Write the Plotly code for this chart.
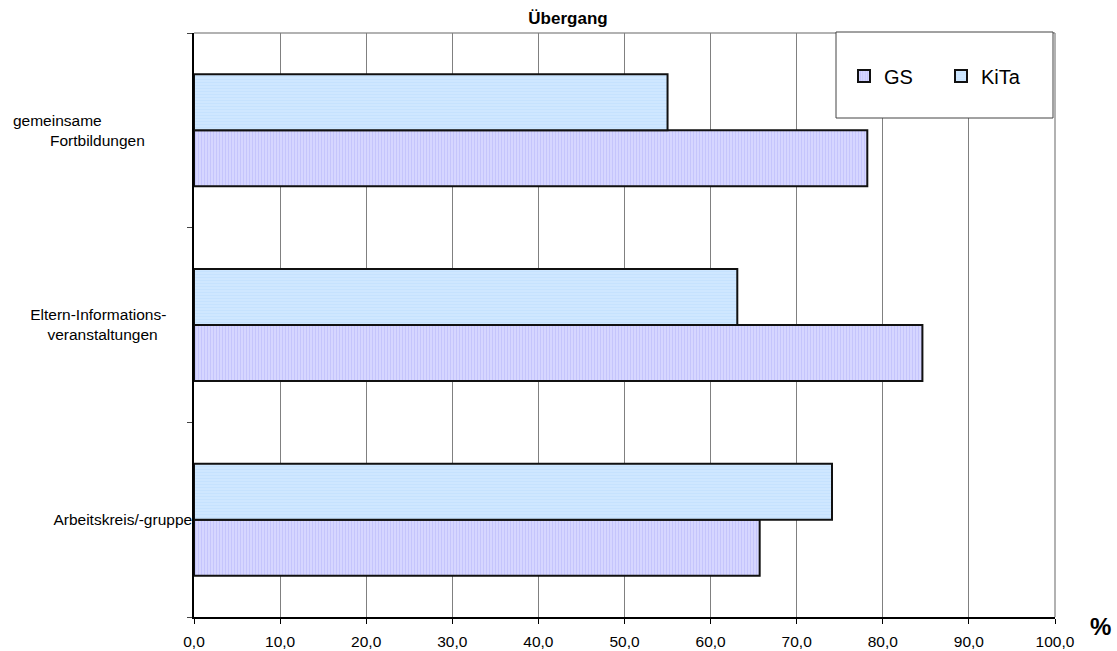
import plotly.graph_objects as go

NB = "\u00a0"
categories = ["Arbeitskreis/-gruppe",
              "Eltern-Informations-" + NB * 6 + "<br>veranstaltungen" + NB * 8,
              "gemeinsame" + NB * 21 + "<br>Fortbildungen" + NB * 11]
series_names = ["GS", "KiTa"]
gs_values = [65.7, 84.6, 78.2]
kita_values = [74.1, 63.1, 55.0]
x_ticks = [0, 10, 20, 30, 40, 50, 60, 70, 80, 90, 100]

fig = go.Figure()
fig.add_trace(go.Bar(
    y=categories, x=gs_values, name=series_names[0], orientation="h",
    marker=dict(color="#CCCCFF",
                line=dict(color="#111111", width=2),
                pattern=dict(shape="|", bgcolor="#D6D6FF", fgcolor="#B4B4FA",
                             size=3, solidity=0.35)),
))
fig.add_trace(go.Bar(
    y=categories, x=kita_values, name=series_names[1], orientation="h",
    marker=dict(color="#CCE6FF",
                line=dict(color="#111111", width=2),
                pattern=dict(shape="-", bgcolor="#CFE7FF", fgcolor="#BDDDFD",
                             size=3, solidity=0.35)),
))

W, H = 1117, 651
L, R, T, B = 194, 1117 - 1055, 33, 651 - 617
pw, ph = W - L - R, H - T - B

def px_x(px):
    return (px - L) / pw

def px_y(py):
    return (H - B - py) / ph

fig.update_layout(
    width=W, height=H,
    margin=dict(l=L, r=R, t=T, b=B, autoexpand=False),
    paper_bgcolor="white", plot_bgcolor="white",
    font=dict(family="Liberation Sans, Arial, sans-serif", size=15.5, color="black"),
    separators=",.",
    barmode="group", bargap=0.425, bargroupgap=0,
    title=dict(text="<b>Übergang</b>", x=568 / W, xanchor="center",
               y=1 - 18 / H, yanchor="middle",
               font=dict(size=17, color="black")),
    showlegend=True,
    legend=dict(orientation="h", x=px_x(844), y=px_y(76), xanchor="left",
                yanchor="middle", bgcolor="rgba(0,0,0,0)", borderwidth=0,
                font=dict(size=20, color="black"), traceorder="normal",
                entrywidth=52, entrywidthmode="pixels", itemwidth=30),
    xaxis=dict(range=[0, 100], tickvals=x_ticks, tickformat=".1f",
               showgrid=True, gridcolor="#808080", gridwidth=1,
               showline=True, linecolor="black", linewidth=1.5,
               ticks="outside", ticklen=5, tickcolor="black",
               ticklabelstandoff=5,
               zeroline=False, fixedrange=True),
    yaxis=dict(type="category", categoryorder="array", categoryarray=categories,
               tickson="boundaries", ticks="outside", ticklen=5,
               tickcolor="#444444", showline=True, linecolor="black",
               linewidth=1.5, showgrid=False, ticklabelstandoff=-3,
               fixedrange=True),
    shapes=[
        dict(type="line", xref="paper", yref="paper", x0=0, x1=1, y0=1, y1=1,
             line=dict(color="#999999", width=1.5), layer="below"),
        dict(type="line", xref="paper", yref="paper", x0=1, x1=1, y0=0, y1=1,
             line=dict(color="#999999", width=1.5), layer="below"),
        dict(type="rect", xref="paper", yref="paper",
             x0=px_x(836), x1=px_x(1053), y0=px_y(118), y1=px_y(32),
             fillcolor="white", line=dict(color="#444444", width=1),
             layer="above"),
    ],
    annotations=[
        dict(text="<b>%</b>", xref="paper", yref="paper",
             x=px_x(1100), y=px_y(626), xanchor="center", yanchor="middle",
             showarrow=False, font=dict(size=24, color="black")),
    ],
)

fig.write_html(
    "out.html",
    config={"displayModeBar": False},
    post_script="document.body.style.margin='0';document.body.style.overflow='hidden';",
)
